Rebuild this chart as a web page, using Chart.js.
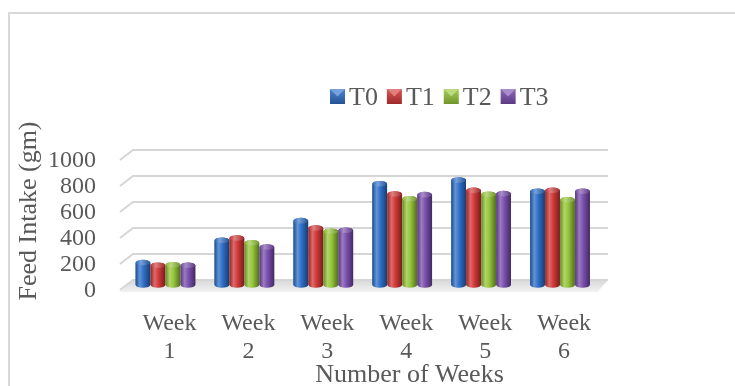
<!DOCTYPE html>
<html>
<head>
<meta charset="utf-8">
<script src="https://cdn.jsdelivr.net/npm/chart.js@4/dist/chart.umd.min.js"></script>
<style>
  html, body { margin: 0; padding: 0; background: #ffffff; }
  #wrap { width: 735px; height: 386px; }
</style>
</head>
<body>
<div id="wrap"><canvas id="feedChart" width="735" height="386"></canvas></div>
<script>
// Weekly feed intake per treatment group (gm)
const weeks = [['Week', '1'], ['Week', '2'], ['Week', '3'], ['Week', '4'], ['Week', '5'], ['Week', '6']];
const seriesNames = ['T0', 'T1', 'T2', 'T3'];
const t0 = [172, 344, 495, 779, 808, 721];
const t1 = [152, 362, 438, 700, 728, 728];
const t2 = [156, 325, 413, 664, 698, 656];
const t3 = [152, 292, 421, 695, 703, 721];
const yTicks = [0, 200, 400, 600, 800, 1000];
const yTitle = 'Feed Intake (gm)';
const xTitle = 'Number of Weeks';

const seriesColors = ['#2E6FC8', '#D23838', '#96C63A', '#7A4FAE'];
const textColor = '#595959';
const serif = '"Liberation Serif", "Times New Roman", serif';

function shade(hex, amt) {
  const n = parseInt(hex.slice(1), 16);
  let r = (n >> 16) & 255, g = (n >> 8) & 255, b = n & 255;
  const t = amt < 0 ? 0 : 255, p = Math.abs(amt);
  r = Math.round(r + (t - r) * p);
  g = Math.round(g + (t - g) * p);
  b = Math.round(b + (t - b) * p);
  return `rgb(${r},${g},${b})`;
}

// Frame, floor and back-wall gridlines of the 3D plot box
const wallPlugin = {
  id: 'wall',
  beforeDraw(chart) {
    const ctx = chart.ctx;
    ctx.save();
    ctx.fillStyle = '#ffffff';
    ctx.fillRect(0, 0, chart.width, chart.height);
    ctx.strokeStyle = '#d9d9d9';
    ctx.lineWidth = 2;
    ctx.beginPath();
    ctx.moveTo(9, chart.height);
    ctx.lineTo(9, 13);
    ctx.lineTo(chart.width, 13);
    ctx.stroke();
    ctx.restore();
  },
  beforeDatasetsDraw(chart) {
    const { ctx, chartArea: a, scales: { y } } = chart;
    const b = y.getPixelForValue(0);
    ctx.save();
    const fg = ctx.createLinearGradient(0, b - 5, 0, b + 7);
    fg.addColorStop(0, '#d8d8d8');
    fg.addColorStop(1, '#f2f2f2');
    ctx.fillStyle = fg;
    ctx.beginPath();
    ctx.moveTo(a.left - 6, b + 7);
    ctx.lineTo(a.right - 2, b + 7);
    ctx.lineTo(a.right + 8.5, b - 5);
    ctx.lineTo(a.left + 7, b - 5);
    ctx.closePath();
    ctx.fill();

    ctx.strokeStyle = '#d6d6d6';
    ctx.lineWidth = 2;
    y.ticks.forEach(t => {
      const p = y.getPixelForValue(t.value);
      ctx.beginPath();
      ctx.moveTo(a.left - 6, p + 5);
      ctx.lineTo(a.left + 7, p - 5);
      ctx.lineTo(a.right + 8.5, p - 5);
      ctx.stroke();
    });
    ctx.restore();
  },
  // Cylinder shading over each bar the library has laid out
  afterDatasetsDraw(chart) {
    const ctx = chart.ctx;
    chart.data.datasets.forEach((ds, i) => {
      const meta = chart.getDatasetMeta(i);
      if (meta.hidden) return;
      const c = seriesColors[i];
      meta.data.forEach(el => {
        const { x, y, base, width } = el.getProps(['x', 'y', 'base', 'width'], true);
        const rx = width / 2, ry = 2.8;
        const l = x - rx, r = x + rx;
        ctx.save();
        const g = ctx.createLinearGradient(l, 0, r, 0);
        g.addColorStop(0, shade(c, -0.3));
        g.addColorStop(0.28, shade(c, 0.25));
        g.addColorStop(0.55, c);
        g.addColorStop(1, shade(c, -0.45));
        ctx.fillStyle = g;
        ctx.beginPath();
        ctx.moveTo(l, y);
        ctx.lineTo(l, base);
        ctx.ellipse(x, base, rx, ry, 0, Math.PI, 0, true);
        ctx.lineTo(r, y);
        ctx.ellipse(x, y, rx, ry, 0, 0, Math.PI, true);
        ctx.closePath();
        ctx.fill();

        const cg = ctx.createLinearGradient(l, 0, r, 0);
        cg.addColorStop(0, shade(c, -0.1));
        cg.addColorStop(0.35, shade(c, 0.35));
        cg.addColorStop(1, shade(c, -0.25));
        ctx.fillStyle = cg;
        ctx.beginPath();
        ctx.ellipse(x, y, rx, ry, 0, 0, Math.PI * 2);
        ctx.fill();
        ctx.restore();
      });
    });
  },
  // Legend and axis titles
  afterDraw(chart) {
    const ctx = chart.ctx;
    ctx.save();
    ctx.font = `26px ${serif}`;
    ctx.fillStyle = textColor;
    ctx.textBaseline = 'alphabetic';
    let lx = 330;
    const ly = 89, s = 15;
    chart.data.datasets.forEach((ds, i) => {
      const c = seriesColors[i];
      const g = ctx.createLinearGradient(0, ly, 0, ly + s);
      g.addColorStop(0, shade(c, 0.15));
      g.addColorStop(1, shade(c, -0.25));
      ctx.fillStyle = g;
      ctx.fillRect(lx, ly, s, s);
      ctx.fillStyle = shade(c, 0.35);
      ctx.beginPath();
      ctx.moveTo(lx, ly);
      ctx.lineTo(lx + s, ly);
      ctx.lineTo(lx + s / 2, ly + s / 2);
      ctx.closePath();
      ctx.fill();
      ctx.fillStyle = textColor;
      ctx.textAlign = 'left';
      ctx.fillText(ds.label, lx + s + 4, 105);
      lx += s + 4 + ctx.measureText(ds.label).width + 9;
    });

    ctx.textAlign = 'center';
    ctx.fillText(xTitle, 409.5, 382);
    ctx.translate(36, 211);
    ctx.rotate(-Math.PI / 2);
    ctx.fillText(yTitle, 0, 0);
    ctx.restore();
  }
};

const seriesData = [t0, t1, t2, t3];

new Chart(document.getElementById('feedChart'), {
  type: 'bar',
  data: {
    labels: weeks,
    datasets: seriesNames.map((name, i) => ({
      label: name,
      data: seriesData[i],
      backgroundColor: seriesColors[i],
      borderWidth: 0,
      categoryPercentage: 0.76,
      barPercentage: 0.98
    }))
  },
  options: {
    responsive: false,
    animation: false,
    devicePixelRatio: 1,
    layout: { padding: { left: 12, right: 135.5, top: 155, bottom: 0 } },
    plugins: {
      legend: { display: false },
      tooltip: { enabled: false }
    },
    scales: {
      x: {
        grid: { display: false, drawTicks: false },
        border: { display: false },
        ticks: {
          font: { family: serif, size: 24, lineHeight: 1.2 },
          color: textColor,
          padding: 24,
          labelOffset: 4,
          maxRotation: 0,
          autoSkip: false
        },
        afterFit(scale) { scale.height = 101; }
      },
      y: {
        min: 0,
        max: 1000,
        grid: { display: false, drawTicks: false },
        border: { display: false },
        ticks: {
          font: { family: serif, size: 24 },
          color: textColor,
          padding: 30,
          labelOffset: 6,
          autoSkip: false,
          callback: v => String(v)
        },
        afterBuildTicks(scale) { scale.ticks = yTicks.map(v => ({ value: v })); },
        afterFit(scale) { scale.width = 114; }
      }
    }
  },
  plugins: [wallPlugin]
});
</script>
</body>
</html>
